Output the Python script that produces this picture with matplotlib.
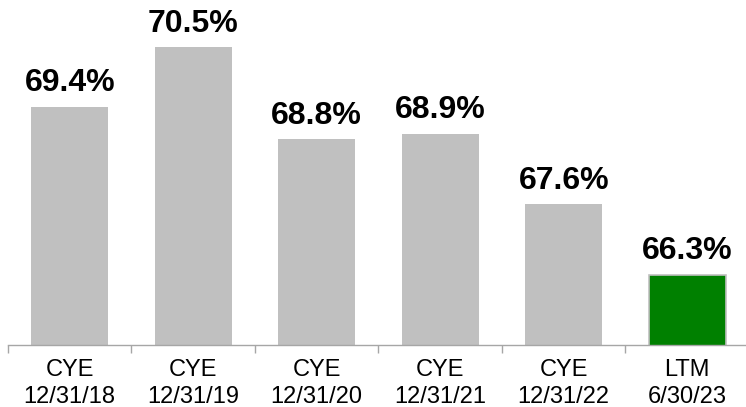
import matplotlib.pyplot as plt

periodos = ['CYE\n12/31/18', 'CYE\n12/31/19', 'CYE\n12/31/20', 'CYE\n12/31/21', 'CYE\n12/31/22', 'LTM\n6/30/23']
valores = [69.4, 70.5, 68.8, 68.9, 67.6, 66.3]
colores = ['#c0c0c0'] * 5 + ['#008000']

plt.rcParams['font.family'] = ['Liberation Sans', 'DejaVu Sans']

fig = plt.figure(figsize=(7.46, 4.07), dpi=100)
ax = fig.add_axes([8 / 746, 1 - 345 / 407, 1 - 8 / 746 + 3 / 746, 345 / 407])

x = list(range(len(valores)))
barras = ax.bar(x, valores, width=0.62, color=colores, bottom=0)
barras[-1].set_edgecolor('#c0c0c0')
barras[-1].set_linewidth(1.2)

for xi, v in zip(x, valores):
    ax.annotate(f'{v:.1f}%', (xi, v), xytext=(0, 6), textcoords='offset points',
                ha='center', va='bottom', fontsize=23, fontweight='bold')

ax.set_ylim(65.0, 65.0 + 345 / 54.2)
ax.set_xlim(-0.5, len(valores) - 0.5)

# ticks en los limites de cada categoria, etiquetas centradas
ax.set_xticks([i - 0.5 for i in range(len(valores))])
ax.set_xticklabels([])
ax.set_xticks(x, minor=True)
ax.set_xticklabels(periodos, minor=True, fontsize=17, linespacing=1.28)
ax.tick_params(axis='x', which='major', direction='out', length=6, width=1, color='#a6a6a6')
ax.tick_params(axis='x', which='minor', length=0, pad=10)
ax.set_yticks([])

for lado in ['top', 'right', 'left']:
    ax.spines[lado].set_visible(False)
ax.spines['bottom'].set_color('#a6a6a6')
ax.spines['bottom'].set_linewidth(1)

fig.savefig('out.png', dpi=100)
